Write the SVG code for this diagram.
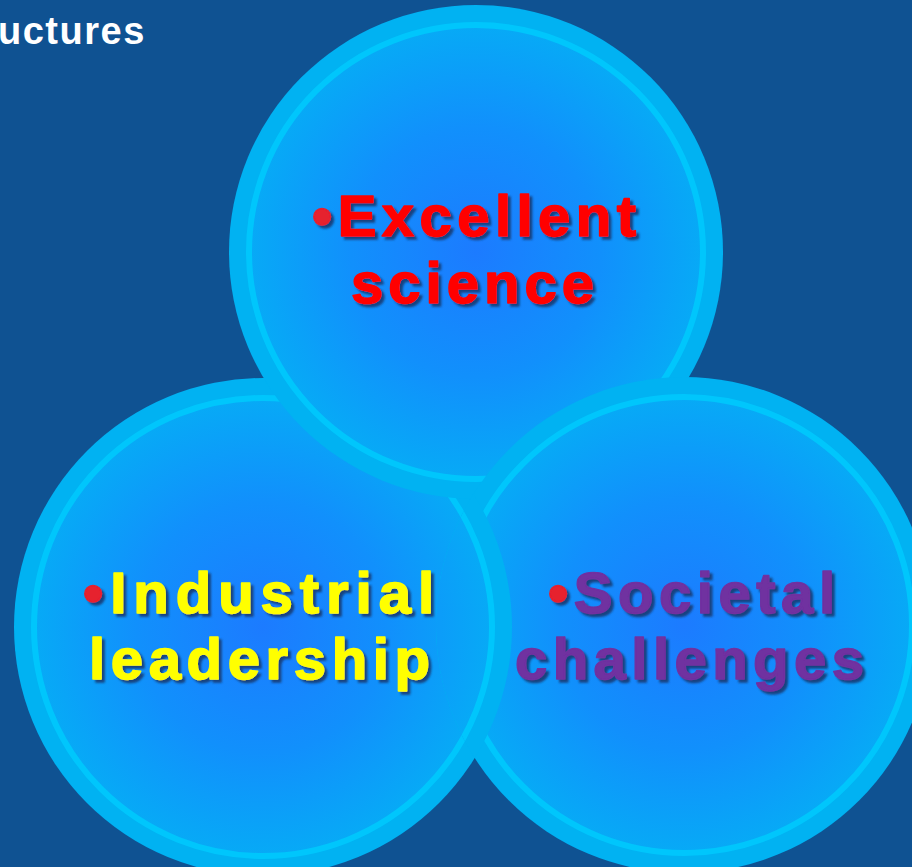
<svg xmlns="http://www.w3.org/2000/svg" xmlns:xlink="http://www.w3.org/1999/xlink" width="912" height="867" viewBox="0 0 912 867">
  <defs>
    <radialGradient id="gFill" cx="0.5" cy="0.5" r="0.5">
      <stop offset="0" stop-color="#1c7bff"/>
      <stop offset="0.55" stop-color="#1190fc"/>
      <stop offset="1" stop-color="#07aaf6"/>
    </radialGradient>
    <filter id="shadow" x="-10%" y="-20%" width="130%" height="150%">
      <feDropShadow dx="3" dy="3" stdDeviation="1.2" flood-color="#164079" flood-opacity="0.95"/>
    </filter>
    <clipPath id="clipRight">
      <circle cx="684" cy="625" r="248"/>
    </clipPath>
  </defs>
  <style>
    .band { fill: #01b2f2; }
    .inner { fill: url(#gFill); stroke: #00c6fc; stroke-width: 6; }
    .lbl { font-family: "Liberation Sans", Arial, sans-serif; font-weight: bold; font-size: 58px; filter: url(#shadow); stroke-width: 1.6px; stroke-linejoin: round; }
    .red { fill: #ff0000; stroke: #ff0000; }
    .yel { fill: #ffff00; stroke: #ffff00; }
    .pur { fill: #7030a0; stroke: #7030a0; }
    .bul { fill: #e6202e; stroke: #e6202e; }
    .hdr { font-family: "Liberation Sans", Arial, sans-serif; font-weight: bold; font-size: 38px; letter-spacing: 1.5px; fill: #ffffff; }
  </style>
  <rect x="0" y="0" width="912" height="867" fill="#0f5292"/>
  <text class="hdr" x="-2" y="44">uctures</text>

  <g id="node-industrial">
    <g id="shape-industrial">
      <circle class="band" cx="263" cy="627" r="249"/>
      <circle class="inner" cx="263" cy="627" r="229"/>
    </g>
  </g>

  <g id="node-excellent">
    <circle class="band" cx="476" cy="252" r="247"/>
    <circle class="inner" cx="476" cy="252" r="227"/>
    <text class="lbl red" x="312" y="236" textLength="324" lengthAdjust="spacing"><tspan class="bul">•</tspan>Excellent</text>
    <text class="lbl red" x="351" y="303" textLength="243" lengthAdjust="spacing">science</text>
  </g>

  <g id="node-societal">
    <circle class="band" cx="684" cy="625" r="248"/>
    <circle class="inner" cx="684" cy="625" r="228"/>
    <text class="lbl pur" x="548" y="613" textLength="287" lengthAdjust="spacing"><tspan class="bul">•</tspan>Societal</text>
    <text class="lbl pur" x="515" y="679" textLength="349" lengthAdjust="spacing">challenges</text>
  </g>

  <g id="overlap-industrial">
    <use xlink:href="#shape-industrial" clip-path="url(#clipRight)"/>
  </g>

  <g id="label-industrial">
    <text class="lbl yel" x="83" y="613" textLength="351" lengthAdjust="spacing"><tspan class="bul">•</tspan>Industrial</text>
    <text class="lbl yel" x="89" y="679" textLength="341" lengthAdjust="spacing">leadership</text>
  </g>
</svg>
